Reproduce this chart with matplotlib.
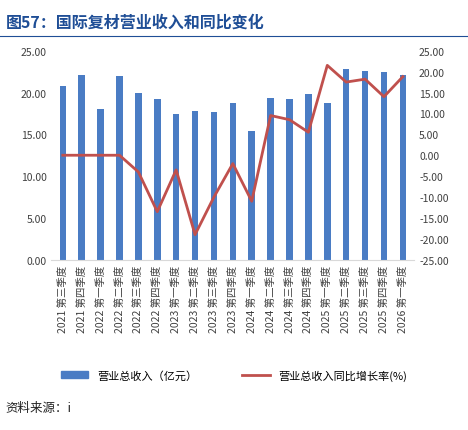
import matplotlib
matplotlib.use("Agg")
import matplotlib.pyplot as plt
from matplotlib.lines import Line2D
from matplotlib.patches import Patch

plt.rcParams['font.family'] = ['Noto Sans CJK SC', 'DejaVu Sans']

quarters = ["第三季度", "第四季度", "第一季度", "第二季度", "第三季度", "第四季度",
            "第一季度", "第二季度", "第三季度", "第四季度", "第一季度", "第二季度",
            "第三季度", "第四季度", "第一季度", "第二季度", "第三季度", "第四季度", "第一季度"]
years = ["2021", "2021", "2022", "2022", "2022", "2022", "2023", "2023", "2023", "2023",
         "2024", "2024", "2024", "2024", "2025", "2025", "2025", "2025", "2026"]
revenue = [20.8, 22.1, 18.0, 22.0, 20.0, 19.2, 17.4, 17.8, 17.7, 18.7,
           15.4, 19.4, 19.2, 19.8, 18.7, 22.8, 22.6, 22.5, 22.1]
yoy = [0, 0, 0, 0, -4, -13.5, -3.5, -19, -10, -2,
       -11, 9.5, 8.5, 5.5, 21.5, 17.5, 18.2, 14, 18.8]

fig = plt.figure(figsize=(4.68, 4.31), dpi=100)
fig.text(0.012, 0.965, "图57：国际复材营业收入和同比变化", fontsize=11.5, fontweight="bold",
         color="#1f4e96", va="top")
fig.add_artist(Line2D([0.0, 1.0], [0.915, 0.915], color="#1f4e96", lw=0.8))

ax = fig.add_axes([0.11, 0.395, 0.775, 0.485])
x = list(range(len(revenue)))
ax.bar(x, revenue, width=0.35, color="#4a7cc4")
ax.set_ylim(0, 25)
ax.set_yticks([0, 5, 10, 15, 20, 25])
ax.set_yticklabels([f"{v:.2f}" for v in [0, 5, 10, 15, 20, 25]], fontsize=7.5, color="#404040")
ax.set_xlim(-0.6, len(revenue) - 0.4)
ax.set_xticks(x)
ax.set_xticklabels([y + " " + q for y, q in zip(years, quarters)], rotation=90,
                   fontsize=7.5, color="#404040")
ax.tick_params(length=0)
for s in ["top", "right", "left"]:
    ax.spines[s].set_visible(False)
ax.spines["bottom"].set_color("#d9d9d9")

ax2 = ax.twinx()
ax2.plot(x, yoy, color="#c0504d", lw=2)
ax2.set_ylim(-25, 25)
ax2.set_yticks(range(-25, 26, 5))
ax2.set_yticklabels([f"{v:.2f}" for v in range(-25, 26, 5)], fontsize=7.5, color="#404040")
ax2.tick_params(length=0)
for s in ["top", "right", "left", "bottom"]:
    ax2.spines[s].set_visible(False)

handles = [Patch(color="#4a7cc4", label="营业总收入（亿元）"),
           Line2D([], [], color="#c0504d", lw=2, label="营业总收入同比增长率(%)")]
fig.legend(handles=handles, loc="center", bbox_to_anchor=(0.5, 0.128), ncol=2,
           frameon=False, fontsize=8, handlelength=2.5, columnspacing=4)
fig.text(0.012, 0.045, "资料来源：i", fontsize=9, style="italic", color="#222222")

fig.savefig("out.png", dpi=100)
